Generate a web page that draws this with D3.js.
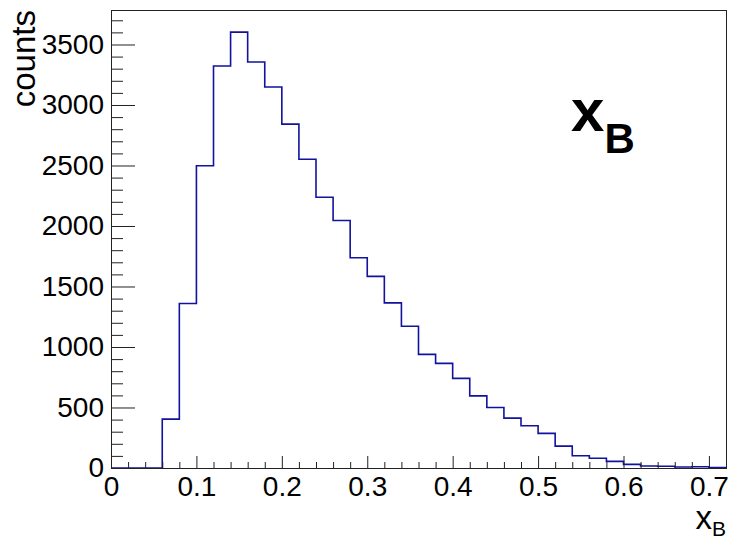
<!DOCTYPE html>
<html>
<head>
    <script src="https://d3js.org/d3.v7.min.js"></script>
    <style>
        body { margin: 0; background: #fff; }
        text { font-family: "Liberation Sans", Arial, Helvetica, sans-serif; }
    </style>
</head>
<body>

<script>
// lower edge of each 0.02 wide bin
const binLow = [0.00, 0.02, 0.04, 0.06, 0.08, 0.10, 0.12, 0.14, 0.16, 0.18,
                0.20, 0.22, 0.24, 0.26, 0.28, 0.30, 0.32, 0.34, 0.36, 0.38,
                0.40, 0.42, 0.44, 0.46, 0.48, 0.50, 0.52, 0.54, 0.56, 0.58,
                0.60, 0.62, 0.64, 0.66, 0.68, 0.70];
const counts = [0, 0, 0, 404, 1359, 2498, 3322, 3602, 3355, 3149,
                2842, 2551, 2238, 2045, 1738, 1584, 1365, 1172, 939, 865,
                741, 596, 500, 412, 349, 286, 181, 101, 80, 55,
                30, 16, 15, 8, 10, 4];
const xRange = [0, 0.72];
const yMax = 3785;
const xMajor = [0, 0.1, 0.2, 0.3, 0.4, 0.5, 0.6, 0.7];
const xMinor = [0.02, 0.04, 0.06, 0.08, 0.12, 0.14, 0.16, 0.18, 0.22, 0.24, 0.26, 0.28,
                0.32, 0.34, 0.36, 0.38, 0.42, 0.44, 0.46, 0.48, 0.52, 0.54, 0.56, 0.58,
                0.62, 0.64, 0.66, 0.68];
const yMajor = [0, 500, 1000, 1500, 2000, 2500, 3000, 3500];
const yMinor = [100, 200, 300, 400, 600, 700, 800, 900, 1100, 1200, 1300, 1400,
                1600, 1700, 1800, 1900, 2100, 2200, 2300, 2400, 2600, 2700, 2800, 2900,
                3100, 3200, 3300, 3400, 3600, 3700];

const W = 733, H = 541;
const margin = { top: 10, right: 7, bottom: 73, left: 111 };
const width = W - margin.left - margin.right;
const height = H - margin.top - margin.bottom;

const svg = d3.select('body')
    .append('svg')
    .attr('width', W)
    .attr('height', H);

const g = svg.append('g')
    .attr('transform', `translate(${margin.left},${margin.top})`);

const x = d3.scaleLinear().domain(xRange).range([0, width]);
const y = d3.scaleLinear().domain([0, yMax]).range([height, 0]);

// histogram outline
const pts = binLow.map((lo, i) => [lo, counts[i]]);
pts.push([xRange[1], counts[counts.length - 1]]);
const line = d3.line()
    .x(d => x(d[0]))
    .y(d => y(d[1]))
    .curve(d3.curveStepAfter);

g.append('path')
    .datum(pts)
    .attr('fill', 'none')
    .attr('stroke', '#12129e')
    .attr('stroke-width', 1.6)
    .attr('d', line);

// x axis ticks
const fmtX = d => d === 0 ? '0' : d3.format('.1f')(d);
g.append('g')
    .attr('transform', `translate(0,${height})`)
    .call(d3.axisBottom(x).tickValues(xMajor).tickSize(-12).tickPadding(8).tickFormat(fmtX));
g.append('g')
    .attr('transform', `translate(0,${height})`)
    .call(d3.axisBottom(x).tickValues(xMinor).tickSize(-6).tickFormat(''));

// y axis ticks
g.append('g')
    .call(d3.axisLeft(y).tickValues(yMajor).tickSize(-24).tickPadding(7).tickFormat(d3.format('d')));
g.append('g')
    .call(d3.axisLeft(y).tickValues(yMinor).tickSize(-12).tickFormat(''));

g.selectAll('.domain').remove();
g.selectAll('.tick line').attr('stroke', '#222');
g.selectAll('.tick text')
    .attr('fill', '#000')
    .style('font-family', '"Liberation Sans", Arial, Helvetica, sans-serif')
    .style('font-size', '28px');

// frame
g.append('rect')
    .attr('x', 0.5)
    .attr('y', 0.5)
    .attr('width', width)
    .attr('height', height)
    .attr('fill', 'none')
    .attr('stroke', '#222')
    .attr('stroke-width', 1);

// y axis title
svg.append('text')
    .attr('transform', 'translate(35,10) rotate(-90)')
    .attr('text-anchor', 'end')
    .style('font-size', '33px')
    .text('counts');

// x axis title
const xt = svg.append('text')
    .attr('x', 726)
    .attr('y', 529)
    .attr('text-anchor', 'end');
xt.append('tspan').style('font-size', '33px').text('x');
xt.append('tspan').style('font-size', '21px').attr('dy', 7).text('B');

// big label
const bt = svg.append('text')
    .attr('x', 571)
    .attr('y', 131)
    .style('font-weight', 'bold');
bt.append('tspan').style('font-size', '60px').text('x');
bt.append('tspan').style('font-size', '42px').attr('dy', 22).text('B');
</script>

</body>
</html>
